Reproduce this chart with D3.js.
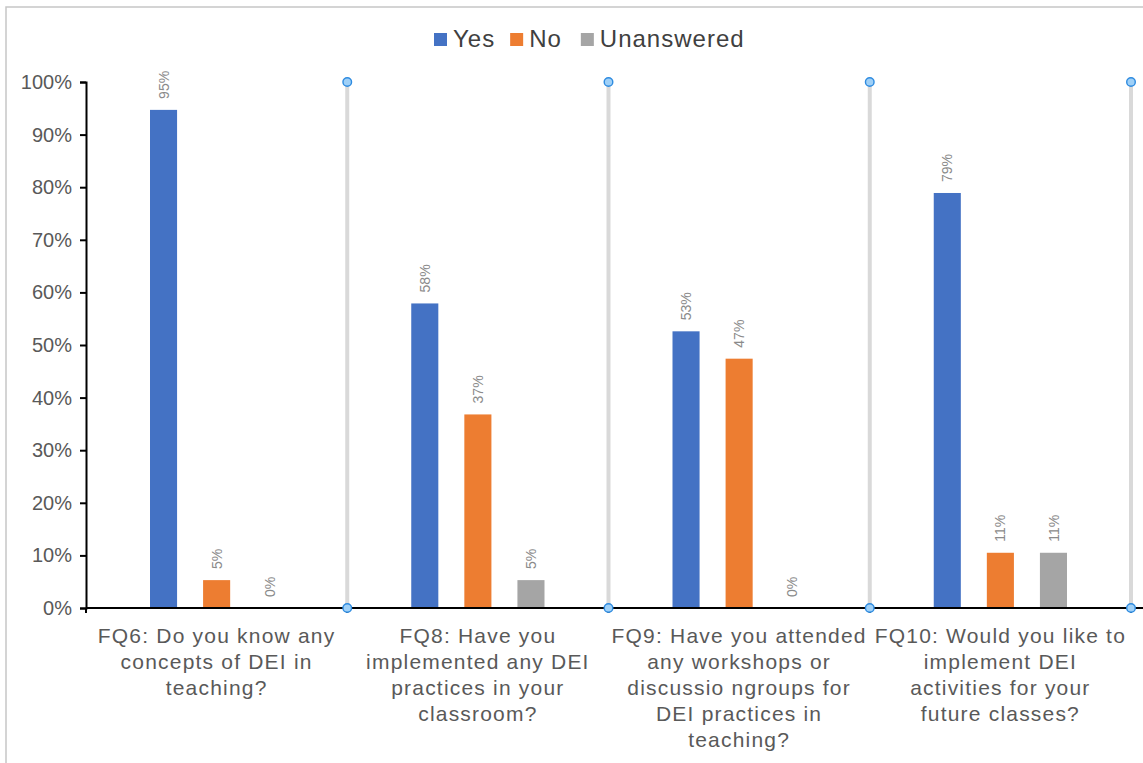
<!DOCTYPE html>
<html>
<head>
<meta charset="utf-8">
<script src="https://cdn.jsdelivr.net/npm/d3@7"></script>
<style>
  html, body { margin: 0; padding: 0; background: #fff; }
  svg { display: block; font-family: "Liberation Sans", Arial, Helvetica, sans-serif; }
</style>
</head>
<body>
<svg id="chart" width="1143" height="763"></svg>
<script>
// ---- data ----
const categories = ["FQ6", "FQ8", "FQ9", "FQ10"];
const categoryLabels = [
  ["FQ6: Do you know any", "concepts of DEI in", "teaching?"],
  ["FQ8: Have you", "implemented any DEI", "practices in your", "classroom?"],
  ["FQ9: Have you attended", "any workshops or", "discussio ngroups for", "DEI practices in", "teaching?"],
  ["FQ10: Would you like to", "implement DEI", "activities for your", "future classes?"]
];
const seriesNames = ["Yes", "No", "Unanswered"];
const seriesColors = ["#4472C4", "#ED7D31", "#A5A5A5"];
const yesValues = [94.7, 57.9, 52.6, 78.9];
const noValues = [5.3, 36.8, 47.4, 10.5];
const unansweredValues = [0, 5.3, 0, 10.5];
const yTicks = [0, 10, 20, 30, 40, 50, 60, 70, 80, 90, 100];

const seriesValues = [yesValues, noValues, unansweredValues];

const svg = d3.select("#chart");
const W = 1143, H = 763;
const mLeft = 86, mRight = 1131, mTop = 82, mBottom = 608;

// outer frame
svg.append("path")
  .attr("d", `M6,${H} L6,7 L${W},7`)
  .attr("fill", "none").attr("stroke", "#c6c6c6").attr("stroke-width", 1.5);

const x = d3.scaleBand().domain(categories).range([mLeft, mRight]).padding(0);
const xs = d3.scaleBand().domain(seriesNames)
  .range([64, x.bandwidth() - 64]).paddingInner(0.49).paddingOuter(0);
const y = d3.scaleLinear().domain([0, 100]).range([mBottom, mTop]);

// separators (behind axes)
const sepX = categories.map(c => x(c) + x.bandwidth());
svg.append("g").selectAll("line").data(sepX).join("line")
  .attr("x1", d => d).attr("x2", d => d)
  .attr("y1", y(100)).attr("y2", y(0))
  .attr("stroke", "#d9d9d9").attr("stroke-width", 4);

// bars
const rows = [];
categories.forEach((c, i) => seriesNames.forEach((s, j) => rows.push({c, s, j, v: seriesValues[j][i]})));

svg.append("g").selectAll("rect").data(rows.filter(d => d.v > 0)).join("rect")
  .attr("x", d => x(d.c) + xs(d.s))
  .attr("y", d => y(d.v))
  .attr("width", xs.bandwidth())
  .attr("height", d => y(0) - y(d.v))
  .attr("fill", d => seriesColors[d.j]);

// value labels
svg.append("g").selectAll("text").data(rows).join("text")
  .attr("transform", d => `translate(${x(d.c) + xs(d.s) + xs.bandwidth() / 2},${y(d.v) - 11}) rotate(-90)`)
  .attr("dy", "0.36em")
  .attr("text-anchor", "start")
  .attr("font-size", 14)
  .attr("fill", "#8a8a8a")
  .text(d => Math.round(d.v) + "%");

// y axis
const yAxis = svg.append("g").attr("transform", `translate(${mLeft},0)`)
  .call(d3.axisLeft(y).tickValues(yTicks).tickFormat(d => d + "%").tickSize(6).tickPadding(8));
yAxis.selectAll("path, line").attr("stroke", "#000").attr("stroke-width", 2);
yAxis.selectAll("text").attr("font-size", 20).attr("fill", "#595959")
  .attr("font-family", "'Liberation Sans', Arial, sans-serif");

// x axis
const xAxisG = svg.append("g").attr("transform", `translate(0,${mBottom})`);
xAxisG.append("line").attr("x1", mLeft).attr("x2", W).attr("y1", 0).attr("y2", 0)
  .attr("stroke", "#000").attr("stroke-width", 2);
xAxisG.selectAll("line.tk").data([mLeft, ...sepX]).join("line").attr("class", "tk")
  .attr("x1", d => d).attr("x2", d => d).attr("y1", 0).attr("y2", 5)
  .attr("stroke", "#000").attr("stroke-width", 2);

// category labels
categories.forEach((c, i) => {
  const t = svg.append("text")
    .attr("x", x(c) + x.bandwidth() / 2)
    .attr("y", 643)
    .attr("text-anchor", "middle")
    .attr("font-size", 21)
    .attr("letter-spacing", "1.2px")
    .attr("fill", "#595959");
  categoryLabels[i].forEach((line, k) => {
    t.append("tspan").attr("x", x(c) + x.bandwidth() / 2).attr("dy", k === 0 ? 0 : 26).text(line);
  });
});

// separator markers
svg.append("g").selectAll("circle").data(sepX.flatMap(sx => [[sx, y(100)], [sx, y(0)]])).join("circle")
  .attr("cx", d => d[0]).attr("cy", d => d[1]).attr("r", 4.3)
  .attr("fill", "#9fd0f7").attr("stroke", "#2e8be0").attr("stroke-width", 1.4);

// legend
const legend = svg.append("g").attr("transform", "translate(434,0)");
let lx = 0;
seriesNames.forEach((s, j) => {
  legend.append("rect").attr("x", lx).attr("y", 33).attr("width", 13).attr("height", 13).attr("fill", seriesColors[j]);
  const t = legend.append("text").attr("x", lx + 19).attr("y", 47)
    .attr("font-size", 24).attr("letter-spacing", "1px").attr("fill", "#404040").text(s);
  const w = t.node().getComputedTextLength();
  lx += 19 + w + (j === 0 ? 15 : 19);
});
</script>
</body>
</html>
